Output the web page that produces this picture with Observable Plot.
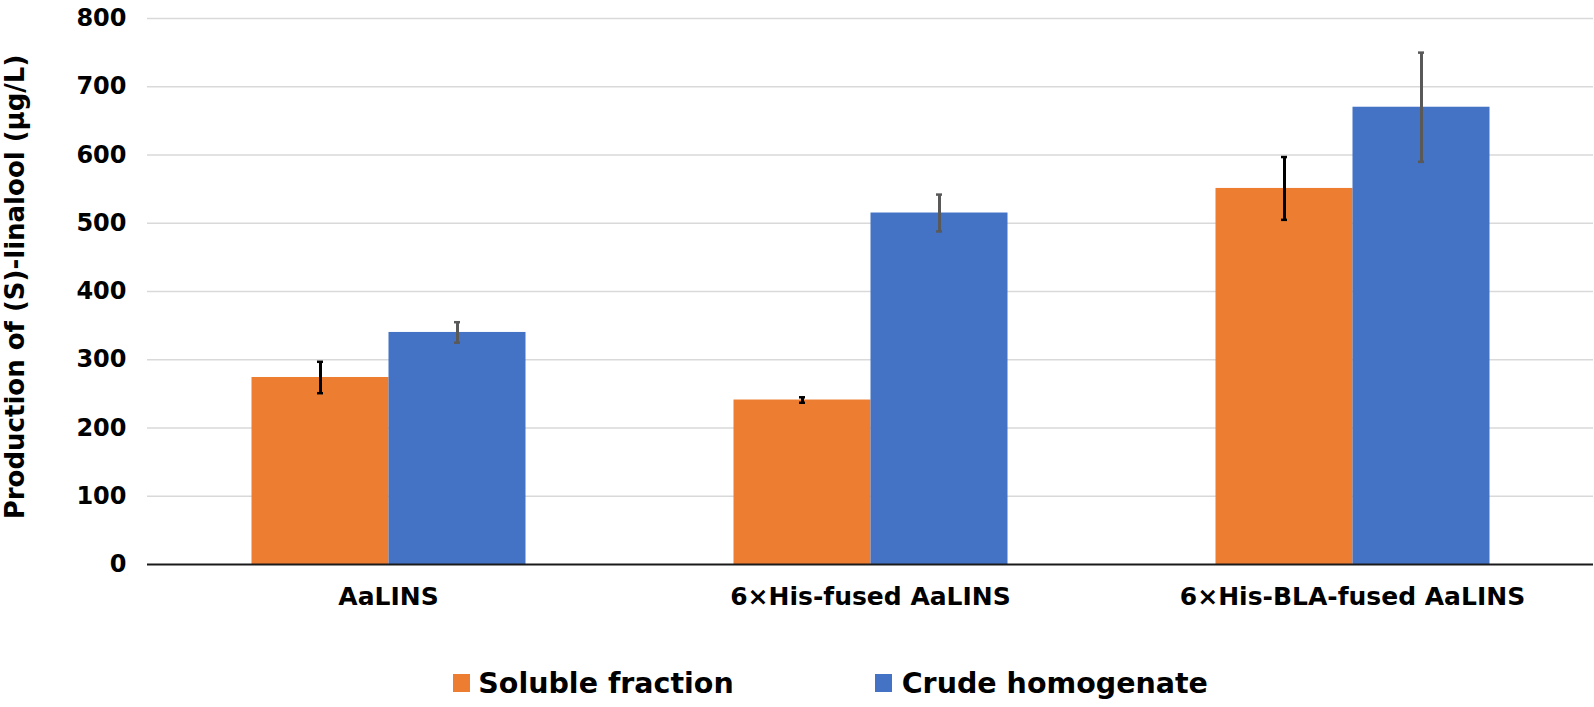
<!DOCTYPE html>
<html>
<head>
<meta charset="utf-8">
<script src="https://cdn.jsdelivr.net/npm/d3@7"></script>
<script src="https://cdn.jsdelivr.net/npm/@observablehq/plot@0.6"></script>
<style>
  html, body { margin: 0; padding: 0; background: #fff; }
  #wrap { position: relative; width: 1594px; height: 707px; overflow: hidden; font-family: "DejaVu Sans", sans-serif; font-weight: bold; color: #000; }
  #chart { position: absolute; left: 0; top: 0; }
  #ytitle { position: absolute; left: -285px; top: 272px; width: 600px; height: 30px; line-height: 30px; font-size: 26px; text-align: center; white-space: nowrap; transform: rotate(-90deg); transform-origin: 50% 50%; }
  .lg-sw { position: absolute; width: 17.4px; height: 17.4px; top: 674.3px; }
  .lg-tx { position: absolute; top: 666.5px; font-size: 28.5px; line-height: 34px; white-space: nowrap; }
</style>
</head>
<body>
<div id="wrap">
  <div id="chart"></div>
  <div id="ytitle"></div>
</div>
<script>
// ---- data ----
const categories = ["AaLINS", "6×His-fused AaLINS", "6×His-BLA-fused AaLINS"];
const series = ["Soluble fraction", "Crude homogenate"];
const solubleValues = [274, 241, 551];
const solubleErrors = [23, 4, 46];
const crudeValues = [340, 515, 670];
const crudeErrors = [15, 27, 80];
const yTicks = [0, 100, 200, 300, 400, 500, 600, 700, 800];
const yTitle = "Production of (S)-linalool (μg/L)";

const barColors = ["#ED7D31", "#4472C4"];
const errColors = ["#000000", "#595959"];

const valuesBySeries = [solubleValues, crudeValues];
const errorsBySeries = [solubleErrors, crudeErrors];

const table = [];
series.forEach((s, i) => {
  categories.forEach((c, j) => {
    const v = valuesBySeries[i][j], e = errorsBySeries[i][j];
    table.push({cat: c, series: s, si: i, value: v, lo: v - e, hi: v + e});
  });
});

const marks = [
  Plot.ruleY(yTicks.filter(d => d > 0), {stroke: "#d9d9d9", strokeWidth: 1.5})
];
series.forEach((s, i) => {
  const rows = table.filter(d => d.si === i);
  marks.push(Plot.barY(rows, {fx: "cat", x: "series", y: "value", fill: barColors[i]}));
});
series.forEach((s, i) => {
  const rows = table.filter(d => d.si === i);
  marks.push(Plot.ruleX(rows, {fx: "cat", x: "series", y1: "lo", y2: "hi", stroke: errColors[i], strokeWidth: 3}));
  marks.push(Plot.tickY(rows, {fx: "cat", x: "series", y: "lo", stroke: errColors[i], strokeWidth: 2.5, insetLeft: 65.5, insetRight: 65.5}));
  marks.push(Plot.tickY(rows, {fx: "cat", x: "series", y: "hi", stroke: errColors[i], strokeWidth: 2.5, insetLeft: 65.5, insetRight: 65.5}));
});
marks.push(Plot.ruleY([0], {stroke: "#1a1a1a", strokeWidth: 2}));
marks.push(Plot.axisY({ticks: yTicks, tickSize: 0, tickPadding: 21, fontSize: 24, fontWeight: "bold", fill: "#000", label: null}));
marks.push(Plot.axisFx({anchor: "bottom", tickSize: 0, tickPadding: 23, fontSize: 25, fontWeight: "bold", fill: "#000", label: null}));

const chart = Plot.plot({
  width: 1594,
  height: 640,
  marginLeft: 145.5,
  marginRight: 0,
  marginTop: 18,
  marginBottom: 76,
  style: {fontFamily: "DejaVu Sans", background: "#fff", color: "#000"},
  fx: {domain: categories, padding: 0, label: null},
  x: {domain: series, paddingInner: 0, paddingOuter: 0.75, axis: null},
  y: {domain: [0, 800], nice: false, axis: null, label: null},
  marks
});
document.getElementById("chart").appendChild(chart);
document.getElementById("ytitle").textContent = yTitle;

// ---- legend ----
const wrap = document.getElementById("wrap");
const swatchLeft = [452.7, 875];
const textLeft = [478.3, 901.7];
series.forEach((s, i) => {
  const sw = document.createElement("div");
  sw.className = "lg-sw";
  sw.style.left = swatchLeft[i] + "px";
  sw.style.background = barColors[i];
  wrap.appendChild(sw);
  const tx = document.createElement("div");
  tx.className = "lg-tx";
  tx.style.left = textLeft[i] + "px";
  tx.textContent = s;
  wrap.appendChild(tx);
});
</script>
</body>
</html>
